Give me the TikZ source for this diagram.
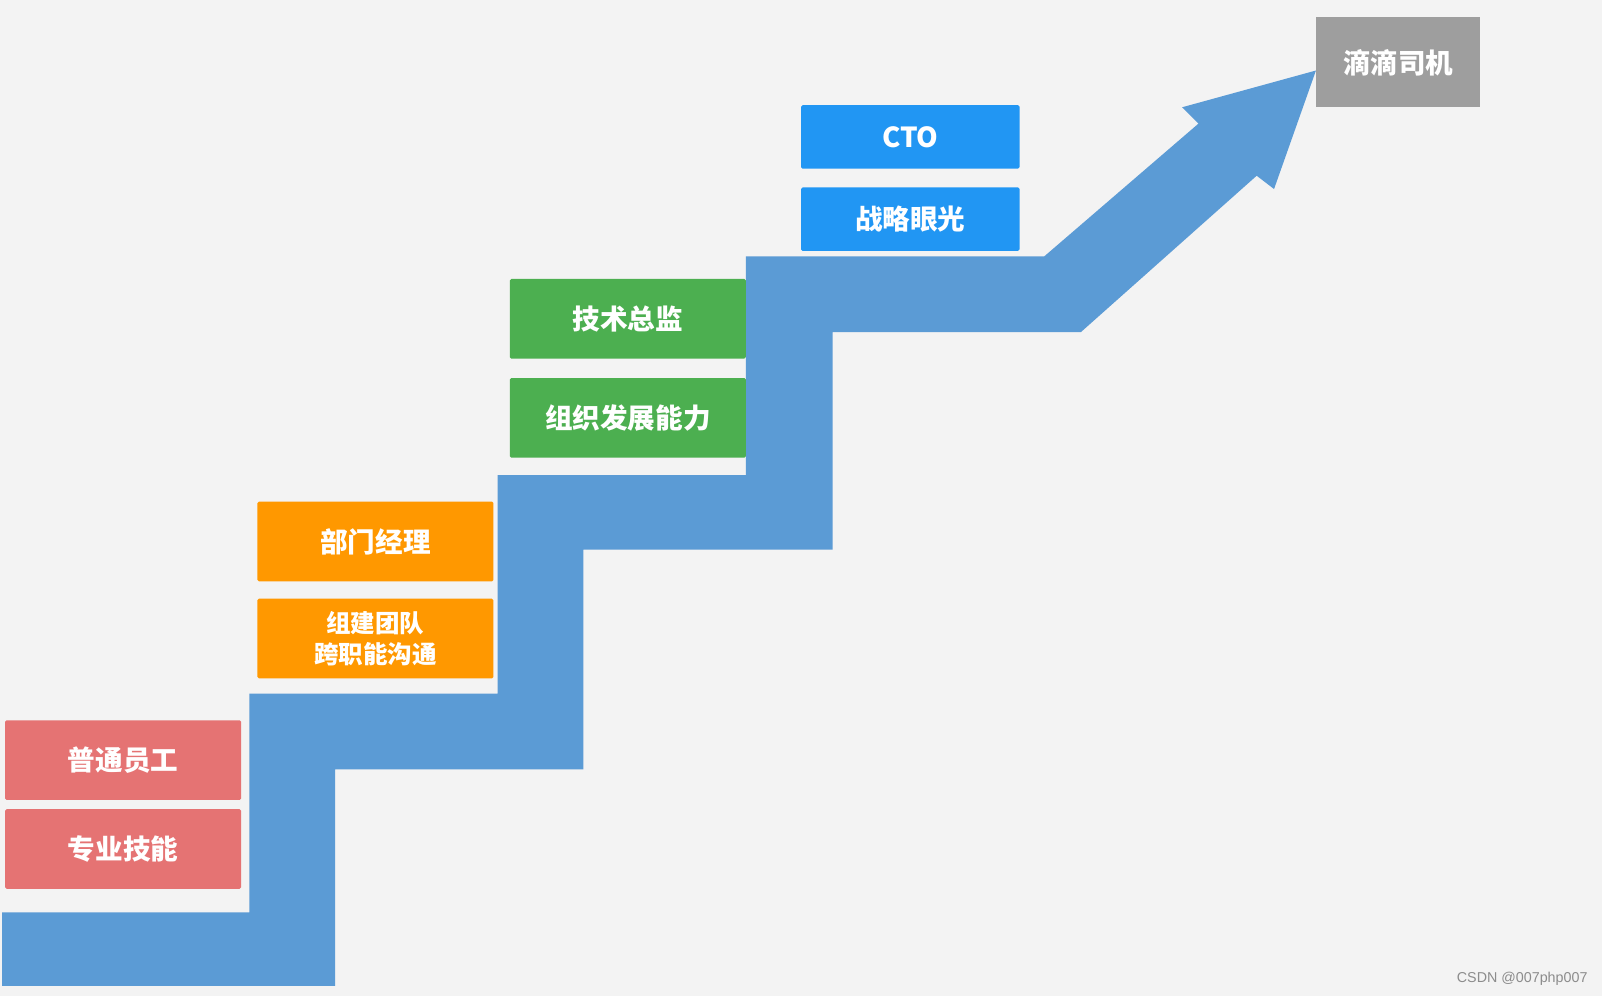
\documentclass[tikz,border=0pt]{standalone}
\usepackage{fontspec}
\newfontfamily\cjk{Noto Sans CJK SC}[BoldFont={Noto Sans CJK SC Black}]
\newfontfamily\wmfont{Liberation Sans}
\definecolor{bgc}{HTML}{F3F3F3}
\definecolor{arrowc}{HTML}{5B9BD5}
\definecolor{redc}{HTML}{E57373}
\definecolor{orangec}{HTML}{FF9800}
\definecolor{greenc}{HTML}{4CAF50}
\definecolor{bluec}{HTML}{2196F3}
\definecolor{grayc}{HTML}{9E9E9E}
\tikzset{
  stepbox/.style={rectangle, rounded corners=1.5pt, inner sep=0pt, text=white,
    align=center, font=\cjk\bfseries\fontsize{27}{30}\selectfont},
  wide/.style={stepbox, minimum width=231pt, minimum height=78pt},
  ctobox/.style={stepbox, minimum width=214pt, minimum height=62pt},
}
\begin{document}
\begin{tikzpicture}[x=1pt,y=-1pt]
\fill[bgc] (0,0) rectangle (1568,975);
\useasboundingbox (0,0) rectangle (1568,975);
% staircase arrow
\fill[arrowc] (2,893) -- (244,893) -- (244,679) -- (487,679) -- (487,465)
  -- (730,465) -- (730,251) -- (1022,251) -- (1173,121) -- (1157,105)
  -- (1288,69) -- (1247,185) -- (1230,172) -- (1058,325) -- (815,325)
  -- (815,538) -- (571,538) -- (571,753) -- (328,753) -- (328,965)
  -- (2,965) -- cycle;
% boxes
\node[wide, fill=redc] (r1) at (120.5,744) {普通员工};
\node[wide, fill=redc] (r2) at (120.5,831) {专业技能};
\node[wide, fill=orangec] (o1) at (367.5,530) {部门经理};
\node[wide, fill=orangec, font=\cjk\bfseries\fontsize{24}{30}\selectfont] (o2) at (367.5,625) {组建团队\\跨职能沟通};
\node[wide, fill=greenc] (g1) at (614.5,312) {技术总监};
\node[wide, fill=greenc] (g2) at (614.5,409) {组织发展能力};
\node[ctobox, fill=bluec] (b1) at (891,134) {CTO};
\node[ctobox, fill=bluec] (b2) at (891,214.5) {战略眼光};
\node[stepbox, fill=grayc, minimum width=161pt, minimum height=88pt, rounded corners=0pt] (d) at (1368.5,61) {滴滴司机};
% watermark
\node[anchor=east, inner sep=0pt, text=black!45, font=\wmfont\fontsize{14}{16}\selectfont] (wm) at (1554,958) {CSDN @007php007};
\end{tikzpicture}
\end{document}
